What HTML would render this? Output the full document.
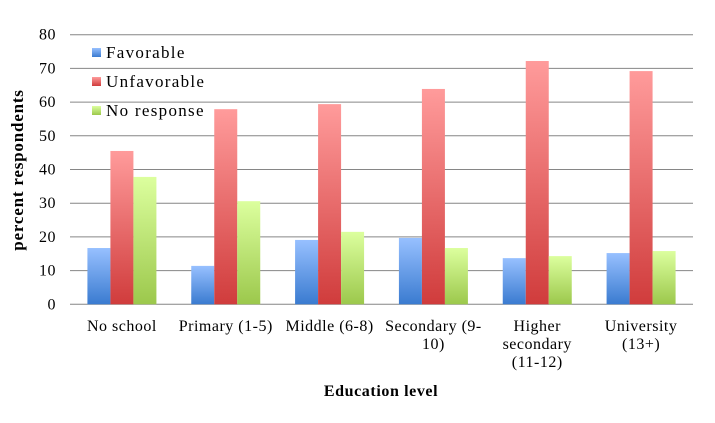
<!DOCTYPE html>
<html><head><meta charset="utf-8"><style>
body{margin:0;background:#fff;font-family:"Liberation Serif",serif;}
svg text{font-family:"Liberation Serif",serif;fill:#000;}
</style></head><body>
<svg width="715" height="418">
<defs>
<linearGradient id="gb" x1="0" y1="0" x2="0" y2="1"><stop offset="0" stop-color="#97c0ff"/><stop offset="1" stop-color="#3a7bd0"/></linearGradient>
<linearGradient id="gr" x1="0" y1="0" x2="0" y2="1"><stop offset="0" stop-color="#ff9b9b"/><stop offset="1" stop-color="#d03c3c"/></linearGradient>
<linearGradient id="gg" x1="0" y1="0" x2="0" y2="1"><stop offset="0" stop-color="#dcff9e"/><stop offset="1" stop-color="#9cc84c"/></linearGradient>
</defs>
<g id="grid"></g><g id="bars"></g><g id="xlabels"></g>
<text x="0" y="0" transform="translate(23,170) rotate(-90)" text-anchor="middle" font-size="17" font-weight="bold" letter-spacing="0.8">percent respondents</text>
<text x="381" y="396" text-anchor="middle" font-size="16" font-weight="bold" letter-spacing="0.6">Education level</text>
<g font-size="17" letter-spacing="1.3">
<rect x="92" y="48" width="9" height="9" fill="url(#gb)"/>
<text x="106" y="58">Favorable</text>
<rect x="92" y="77" width="9" height="9" fill="url(#gr)"/>
<text x="106" y="87">Unfavorable</text>
<rect x="92" y="106" width="9" height="9" fill="url(#gg)"/>
<text x="106" y="116">No response</text>
</g>
</svg>
<script>
const categories=[["No school"],["Primary (1-5)"],["Middle (6-8)"],["Secondary (9-","10)"],["Higher","secondary","(11-12)"],["University","(13+)"]];
const favorable=[16.7,11.4,19.1,19.7,13.7,15.2];
const unfavorable=[45.5,57.9,59.4,63.9,72.2,69.2];
const noResponse=[37.8,30.6,21.5,16.7,14.3,15.8];
const yTicks=[0,10,20,30,40,50,60,70,80];
const NS="http://www.w3.org/2000/svg";
const x0=70,x1=693,y0=304.3,y1=34.7,yMax=80;
const y=v=>y0-(v/yMax)*(y0-y1);
const gw=(x1-x0)/categories.length,bw=23;
function mk(t,a,p){const e=document.createElementNS(NS,t);for(const k in a)e.setAttribute(k,a[k]);p.appendChild(e);return e;}
const grid=document.getElementById('grid');
yTicks.forEach(t=>{
 const l=mk('line',{x1:x0,x2:x1,y1:y(t),y2:y(t),stroke:'#868686','stroke-width':1},grid);
 
 
 const tx=mk('text',{x:56,y:y(t)+5,'text-anchor':'end','font-size':16,'letter-spacing':0.5},grid);
 tx.textContent=t;
 
 
});
const bars=document.getElementById('bars');
const series=[[favorable,'url(#gb)','favorable'],[unfavorable,'url(#gr)','unfavorable'],[noResponse,'url(#gg)','no-response']];
categories.forEach((c,i)=>{
 const gx=x0+i*gw+(gw-3*bw)/2;
 series.forEach((s,j)=>{
  const v=s[0][i];
  const r=mk('rect',{x:gx+j*bw,y:y(v),width:bw,height:y0-y(v),fill:s[1]},bars);
  
  
 });
 const t=mk('text',{x:x0+(i+0.5)*gw,y:331,'text-anchor':'middle','font-size':16,'letter-spacing':0.5},document.getElementById('xlabels'));
 
 
 c.forEach((line,k)=>{const ts=mk('tspan',{x:x0+(i+0.5)*gw,dy:k?18:0},t);ts.textContent=line;});
});
</script>
</body></html>
